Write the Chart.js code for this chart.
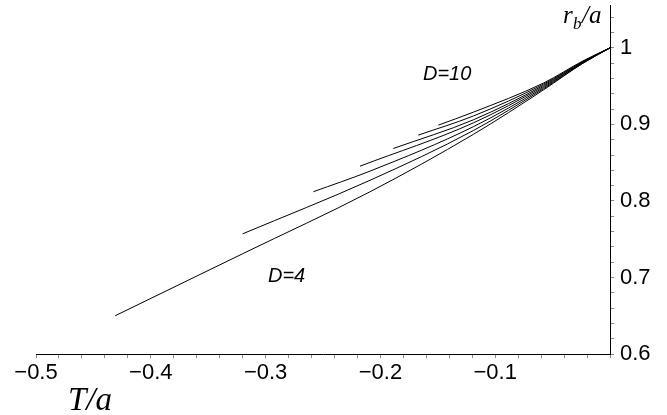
<!DOCTYPE html>
<html>
<head>
<meta charset="utf-8">
<script src="https://cdn.jsdelivr.net/npm/chart.js@4/dist/chart.umd.min.js"></script>
<style>
  html, body { margin: 0; padding: 0; background: #fff; }
  #wrap { width: 667px; height: 415px; }
</style>
</head>
<body>
<div id="wrap"><canvas id="chart" width="667" height="415"></canvas></div>
<script>
// curves r_b/a vs T/a, one per D
const seriesNames = ["D=4", "D=5", "D=6", "D=7", "D=8", "D=9", "D=10"];
const tD4 = [-0.431, -0.32, -0.209, -0.119, -0.058, -0.0235, 0];
const rD4 = [0.650, 0.731, 0.812, 0.887, 0.945, 0.980, 1.0];
const tD5 = [-0.32, -0.209, -0.119, -0.058, -0.0235, 0];
const rD5 = [0.757, 0.827, 0.892, 0.9465, 0.980, 1.0];
const tD6 = [-0.2584, -0.209, -0.119, -0.058, -0.0235, 0];
const rD6 = [0.812, 0.839, 0.897, 0.948, 0.981, 1.0];
const tD7 = [-0.2178, -0.119, -0.058, -0.0235, 0];
const rD7 = [0.8454, 0.902, 0.9495, 0.981, 1.0];
const tD8 = [-0.1888, -0.119, -0.058, -0.0235, 0];
const rD8 = [0.8685, 0.906, 0.951, 0.982, 1.0];
const tD9 = [-0.167, -0.119, -0.058, -0.0235, 0];
const rD9 = [0.886, 0.911, 0.9525, 0.982, 1.0];
const tD10 = [-0.1496, -0.119, -0.058, -0.0235, 0];
const rD10 = [0.899, 0.916, 0.954, 0.983, 1.0];

const xLabels = ["−0.5", "−0.4", "−0.3", "−0.2", "−0.1"];
const xLabelValues = [-0.5, -0.4, -0.3, -0.2, -0.1];
const yLabels = ["0.6", "0.7", "0.8", "0.9", "1"];
const yLabelValues = [0.6, 0.7, 0.8, 0.9, 1.0];

const allT = [tD4, tD5, tD6, tD7, tD8, tD9, tD10];
const allR = [rD4, rD5, rD6, rD7, rD8, rD9, rD10];

const datasets = seriesNames.map((name, i) => ({
  label: name,
  data: allT[i].map((t, j) => ({ x: t, y: allR[i][j] })),
  showLine: true,
  borderColor: "#000",
  borderWidth: 1,
  pointRadius: 0,
  cubicInterpolationMode: "monotone",
  fill: false,
}));

function minorTicks(from, to, step) {
  const out = [];
  const n = Math.round((to - from) / step);
  for (let i = 0; i <= n; i++) out.push({ value: +(from + i * step).toFixed(4) });
  return out;
}

function labelFor(value, values, labels) {
  const k = values.findIndex(v => Math.abs(v - value) < 1e-6);
  return k >= 0 ? labels[k] : "";
}

const textLabels = {
  id: "textLabels",
  afterDraw(chart) {
    const ctx = chart.ctx;
    ctx.save();
    ctx.fillStyle = "#000";
    ctx.textBaseline = "alphabetic";
    // axis titles
    ctx.font = "italic 33px 'Liberation Serif'";
    ctx.fillText("T/a", 68, 410);
    ctx.font = "italic 25px 'Liberation Serif'";
    ctx.fillText("r", 563, 23);
    ctx.font = "italic 17px 'Liberation Serif'";
    ctx.fillText("b", 573, 29);
    ctx.font = "italic 25px 'Liberation Serif'";
    ctx.fillText("/a", 582, 23);
    // curve labels
    ctx.font = "italic 20px 'Liberation Sans'";
    ctx.fillText("D=10", 423, 80);
    ctx.fillText("D=4", 268, 282);
    ctx.restore();
  },
};

new Chart(document.getElementById("chart"), {
  type: "scatter",
  data: { datasets },
  plugins: [textLabels],
  options: {
    responsive: false,
    animation: false,
    layout: { padding: { left: 36, top: 5, right: 0, bottom: 0 } },
    plugins: { legend: { display: false }, tooltip: { enabled: false } },
    scales: {
      x: {
        type: "linear",
        min: -0.5,
        max: 0,
        afterBuildTicks: s => { s.ticks = minorTicks(-0.5, 0, 0.02); },
        afterFit: s => { s.height = 61; s.paddingLeft = 0; s.paddingRight = 0; },
        grid: { drawOnChartArea: false, drawTicks: true, tickLength: 4, color: "#888" },
        border: { display: true, color: "#000", width: 1 },
        ticks: {
          autoSkip: false,
          maxRotation: 0,
          padding: 2,
          color: "#000",
          font: { family: "'Liberation Sans'", size: 22 },
          callback: v => labelFor(v, xLabelValues, xLabels),
        },
      },
      y: {
        type: "linear",
        position: "right",
        min: 0.6,
        max: 1.056,
        afterBuildTicks: s => { s.ticks = minorTicks(0.6, 1.04, 0.02); },
        afterFit: s => { s.width = 57; s.paddingTop = 0; s.paddingBottom = 0; },
        grid: { drawOnChartArea: false, drawTicks: true, tickLength: 4, color: "#888" },
        border: { display: true, color: "#000", width: 1 },
        ticks: {
          autoSkip: false,
          padding: 6,
          color: "#000",
          font: { family: "'Liberation Sans'", size: 22 },
          callback: v => labelFor(v, yLabelValues, yLabels),
        },
      },
    },
  },
});
</script>
</body>
</html>
